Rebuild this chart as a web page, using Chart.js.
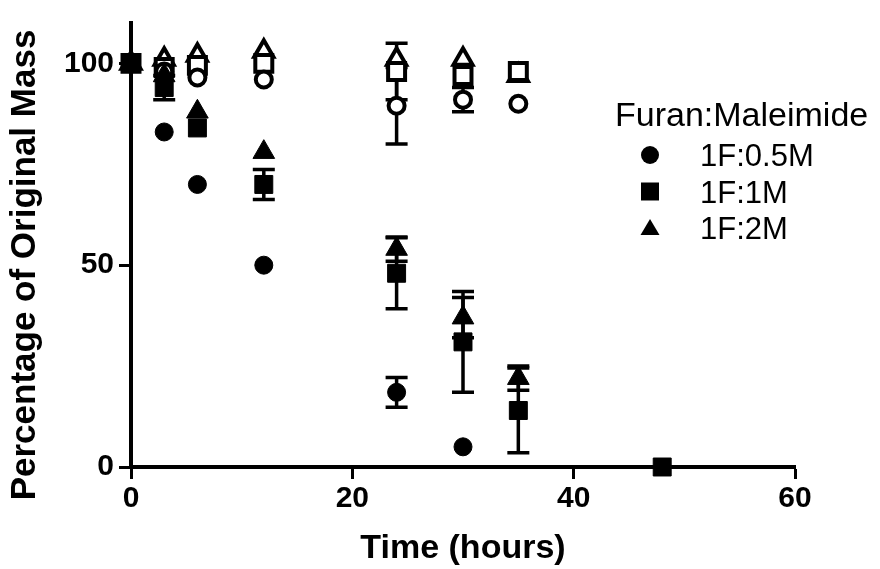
<!DOCTYPE html>
<html lang="en">
<head>
<meta charset="UTF-8">
<title>Percentage of Original Mass vs Time</title>
<script src="https://cdn.jsdelivr.net/npm/chart.js"></script>
<style>
    html, body { margin: 0; padding: 0; background: #fff; }
    #wrap { position: relative; width: 880px; height: 569px; }
</style>
</head>
<body>
<div id="wrap"><canvas id="massChart"></canvas></div>
<script>
// --- values (time in hours, % of original mass) ---
const timeHours = [0, 3, 6, 12, 24, 30, 35, 48];

// filled markers (in legend)
const f05Mean = [100, 83, 70, 50, 18.5, 5, null, null];
const f05Err  = [0, 0, 0, 0, 3.7, 0, null, null];
const f1Mean  = [100, 94, 84, 70, 48, 31, 14, 0];
const f1Err   = [0, 3, 0, 3.7, 8.8, 12.5, 10.5, 0];
const f2Mean  = [100, 97, 88, 78, 54, 37, 22, null];
const f2Err   = [0, 0, 0, 0, 3, 5, 3, null];

// open markers (not in legend)
const c05Mean = [100, 98, 96.5, 96, 89.5, 91, 90, null];
const c05Err  = [0, 0, 0, 0, 9.5, 3, 0, null];
const c1Mean  = [100, 99, 99.5, 100, 98, 97, 98, null];
const c1Err   = [0, 0, 0, 0, 7, 0, 0, null];
const c2Mean  = [100, 101, 102, 103, 101, 101, 97, null];
const c2Err   = [0, 0, 0, 0, 0, 0, 0, null];

const xTicks = [0, 20, 40, 60];
const yTicks = [0, 50, 100];
const legendTitle = 'Furan:Maleimide';

const FONT = '"Liberation Sans", Arial, Helvetica, sans-serif';

function toPoints(mean, err) {
    const pts = [];
    timeHours.forEach((t, i) => {
        if (mean[i] === null) return;
        pts.push({ x: t, y: mean[i], err: err[i] || 0 });
    });
    return pts;
}

function filledSet(label, mean, err, style, radius) {
    return {
        label: label,
        data: toPoints(mean, err),
        pointStyle: style,
        pointRadius: radius,
        backgroundColor: '#000',
        borderColor: '#000',
        borderWidth: 1,
        inLegend: true
    };
}

function openSet(label, mean, err, style, radius) {
    return {
        label: label,
        data: toPoints(mean, err),
        pointStyle: style,
        pointRadius: radius,
        backgroundColor: '#fff',
        borderColor: '#000',
        borderWidth: 4,
        inLegend: false
    };
}

// error bars go under the markers
const errorBars = {
    id: 'errorBars',
    beforeDatasetsDraw(chart) {
        const ctx = chart.ctx;
        const xs = chart.scales.x, ys = chart.scales.y;
        ctx.save();
        ctx.strokeStyle = '#000';
        ctx.lineWidth = 3.5;
        chart.data.datasets.forEach(ds => {
            ds.data.forEach(p => {
                if (!p.err) return;
                const px = xs.getPixelForValue(p.x);
                const top = ys.getPixelForValue(p.y + p.err);
                const bot = ys.getPixelForValue(p.y - p.err);
                ctx.beginPath();
                ctx.moveTo(px, top); ctx.lineTo(px, bot);
                ctx.moveTo(px - 11, top); ctx.lineTo(px + 11, top);
                ctx.moveTo(px - 11, bot); ctx.lineTo(px + 11, bot);
                ctx.stroke();
            });
        });
        ctx.restore();
    }
};

// legend block on the right and the rotated y title
const sideText = {
    id: 'sideText',
    afterDraw(chart) {
        const ctx = chart.ctx;
        ctx.save();
        ctx.fillStyle = '#000';

        // y axis title
        ctx.save();
        ctx.translate(25, 265);
        ctx.rotate(-Math.PI / 2);
        ctx.font = 'bold 35px ' + FONT;
        ctx.textAlign = 'center';
        ctx.textBaseline = 'middle';
        ctx.fillText('Percentage of Original Mass', 0, 0);
        ctx.restore();

        // legend
        ctx.font = '34px ' + FONT;
        ctx.textAlign = 'left';
        ctx.textBaseline = 'alphabetic';
        ctx.fillText(legendTitle, 615, 126);

        ctx.font = '31px ' + FONT;
        const rows = chart.data.datasets.filter(d => d.inLegend);
        rows.forEach((ds, i) => {
            const cy = 155 + i * 36.5;
            const cx = 650;
            ctx.beginPath();
            if (ds.pointStyle === 'circle') {
                ctx.arc(cx, cy, 9, 0, Math.PI * 2);
            } else if (ds.pointStyle === 'rect') {
                ctx.rect(cx - 9, cy - 9, 18, 18);
            } else {
                ctx.moveTo(cx, cy - 9);
                ctx.lineTo(cx + 9.5, cy + 7);
                ctx.lineTo(cx - 9.5, cy + 7);
                ctx.closePath();
            }
            ctx.fill();
            ctx.fillText(ds.label, 700, cy + 11);
        });
        ctx.restore();
    }
};

const ctx = document.getElementById('massChart').getContext('2d');
new Chart(ctx, {
    type: 'scatter',
    data: {
        datasets: [
            filledSet('1F:0.5M', f05Mean, f05Err, 'circle', 9),
            filledSet('1F:1M', f1Mean, f1Err, 'rect', 12.7),
            filledSet('1F:2M', f2Mean, f2Err, 'triangle', 12.5),
            openSet('0.5M control', c05Mean, c05Err, 'circle', 8),
            openSet('1M control', c1Mean, c1Err, 'rect', 12),
            openSet('2M control', c2Mean, c2Err, 'triangle', 11)
        ]
    },
    options: {
        responsive: true,
        maintainAspectRatio: false,
        animation: false,
        clip: false,
        layout: { padding: { top: 22, right: 85, left: 0, bottom: 0 } },
        plugins: {
            legend: { display: false },
            tooltip: { enabled: false }
        },
        scales: {
            x: {
                type: 'linear',
                min: 0,
                max: 60,
                afterBuildTicks: s => { s.ticks = xTicks.map(v => ({ value: v })); },
                afterFit: s => { s.height = 102; },
                border: { display: true, color: '#000', width: 4 },
                grid: { drawOnChartArea: false, drawTicks: true, tickLength: 12, tickWidth: 3, tickColor: '#000' },
                ticks: { color: '#000', padding: 2, font: { family: FONT, size: 30, weight: 'bold' } },
                title: {
                    display: true,
                    text: 'Time (hours)',
                    color: '#000',
                    padding: { top: 0, bottom: 0 },
                    font: { family: FONT, size: 34, weight: 'bold' }
                }
            },
            y: {
                type: 'linear',
                min: 0,
                max: 110,
                afterBuildTicks: s => { s.ticks = yTicks.map(v => ({ value: v })); },
                afterFit: s => { s.width = 131; },
                border: { display: true, color: '#000', width: 4 },
                grid: { drawOnChartArea: false, drawTicks: true, tickLength: 12, tickWidth: 3, tickColor: '#000' },
                ticks: { color: '#000', padding: 5, font: { family: FONT, size: 30, weight: 'bold' } }
            }
        }
    },
    plugins: [errorBars, sideText]
});
</script>
</body>
</html>
